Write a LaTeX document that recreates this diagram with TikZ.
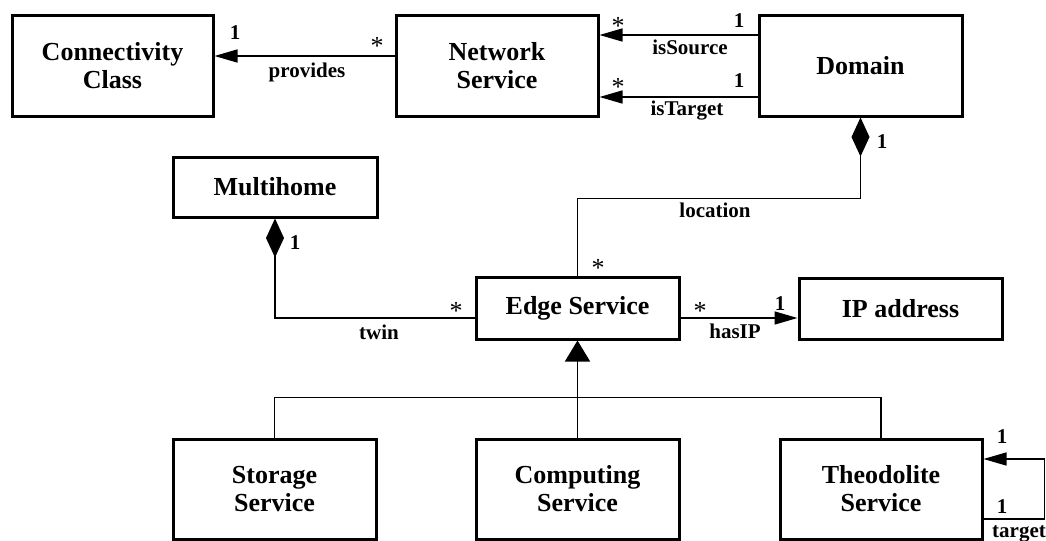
\documentclass[tikz,border=0pt]{standalone}
\usepackage{fontspec}
\setmainfont{Liberation Serif}
\usetikzlibrary{arrows.meta,calc}
\begin{document}
\begin{tikzpicture}[x=0.5pt,y=-0.5pt,
  cls/.style={draw,line width=1.5pt,inner sep=0pt,align=center,font=\fontsize{13}{14}\selectfont\bfseries},
  lbl/.style={anchor=base,inner sep=0pt,font=\fontsize{10.5}{12}\selectfont\bfseries},
  mult/.style={anchor=base,inner sep=0pt,font=\fontsize{13}{14}\selectfont},
  conn/.style={line width=0.75pt},
  nav/.style={arrows={-Triangle[length=11.5pt,width=6.5pt]}},
  comp/.style={arrows={Diamond[length=19.5pt,width=9pt]-}},
  gen/.style={arrows={-Triangle[length=10.5pt,width=12.5pt]}}]
\useasboundingbox (0,0) rectangle (1046,541);

% classes
\node[cls,minimum width=100.5pt,minimum height=50.5pt] (cc) at (112.5,65.5) {Connectivity\\Class};
\node[cls,minimum width=101pt,minimum height=50.5pt] (ns) at (497,65.5) {Network\\Service};
\node[cls,minimum width=101.5pt,minimum height=50.5pt] (dom) at (860.5,65.5) {Domain};
\node[cls,minimum width=102pt,minimum height=30pt] (mh) at (275,187) {Multihome};
\node[cls,minimum width=101.5pt,minimum height=31pt] (es) at (577.5,308) {Edge Service};
\node[cls,minimum width=101.5pt,minimum height=30.5pt] (ip) at (900.5,308.5) {IP address};
\node[cls,minimum width=101.5pt,minimum height=50pt] (ss) at (274.5,489) {Storage\\Service};
\node[cls,minimum width=101.5pt,minimum height=50pt] (cs) at (577.5,489) {Computing\\Service};
\node[cls,minimum width=101pt,minimum height=50pt] (ts) at (881,489) {Theodolite\\Service};

% associations
\draw[conn,nav] ($(ns.west)+(0,-9.5)$) -- ($(cc.east)+(0,-9.5)$);
\draw[conn,nav] ($(dom.west)+(0,-30.5)$) -- ($(ns.east)+(0,-30.5)$);
\draw[conn,nav] ($(dom.west)+(0,31.5)$) -- ($(ns.east)+(0,31.5)$);
\coordinate (loc) at ($(dom.south)+(0,81)$);
\draw[conn,comp] (dom.south) -- (loc) -| (es.north);
\draw[conn,comp] (mh.south) |- ($(es.west)+(0,10)$);
\draw[conn,nav] ($(es.east)+(0,10)$) -- ($(ip.west)+(0,9.5)$);

% generalisation
\draw[conn,gen] (cs.north) -- (es.south);
\coordinate (gy) at ($(cs.north)+(0,-40)$);
\draw[conn] (ss.north) |- (gy) -| (ts.north);

% self association
\draw[conn,nav] ($(ts.east)+(0,30)$) -- ++(61,0) |- ($(ts.east)+(0,-30)$);

% labels
\node[lbl] (m1) at (235,39) {1};
\node[mult] (m2) at (377,54) {*};
\node[lbl] (l1) at (307,77) {provides};
\node[mult] (m3) at (618,34) {*};
\node[lbl] (m4) at (739,27) {1};
\node[lbl] (l2) at (690,54) {isSource};
\node[mult] (m5) at (618,95) {*};
\node[lbl] (m6) at (739,87) {1};
\node[lbl] (l3) at (687,115) {isTarget};
\node[lbl] (m7) at (882,148) {1};
\node[lbl] (l4) at (715,217) {location};
\node[mult] (m8) at (598,276) {*};
\node[lbl] (m9) at (295,249) {1};
\node[mult] (m10) at (456,319) {*};
\node[lbl] (l5) at (379,339) {twin};
\node[mult] (m11) at (700,319) {*};
\node[lbl] (m12) at (780,310) {1};
\node[lbl] (l6) at (735,338) {hasIP};
\node[lbl] (m13) at (1002,443) {1};
\node[lbl] (m14) at (1002,513) {1};
\node[lbl] (l7) at (1019,537) {target};
\end{tikzpicture}
\end{document}
